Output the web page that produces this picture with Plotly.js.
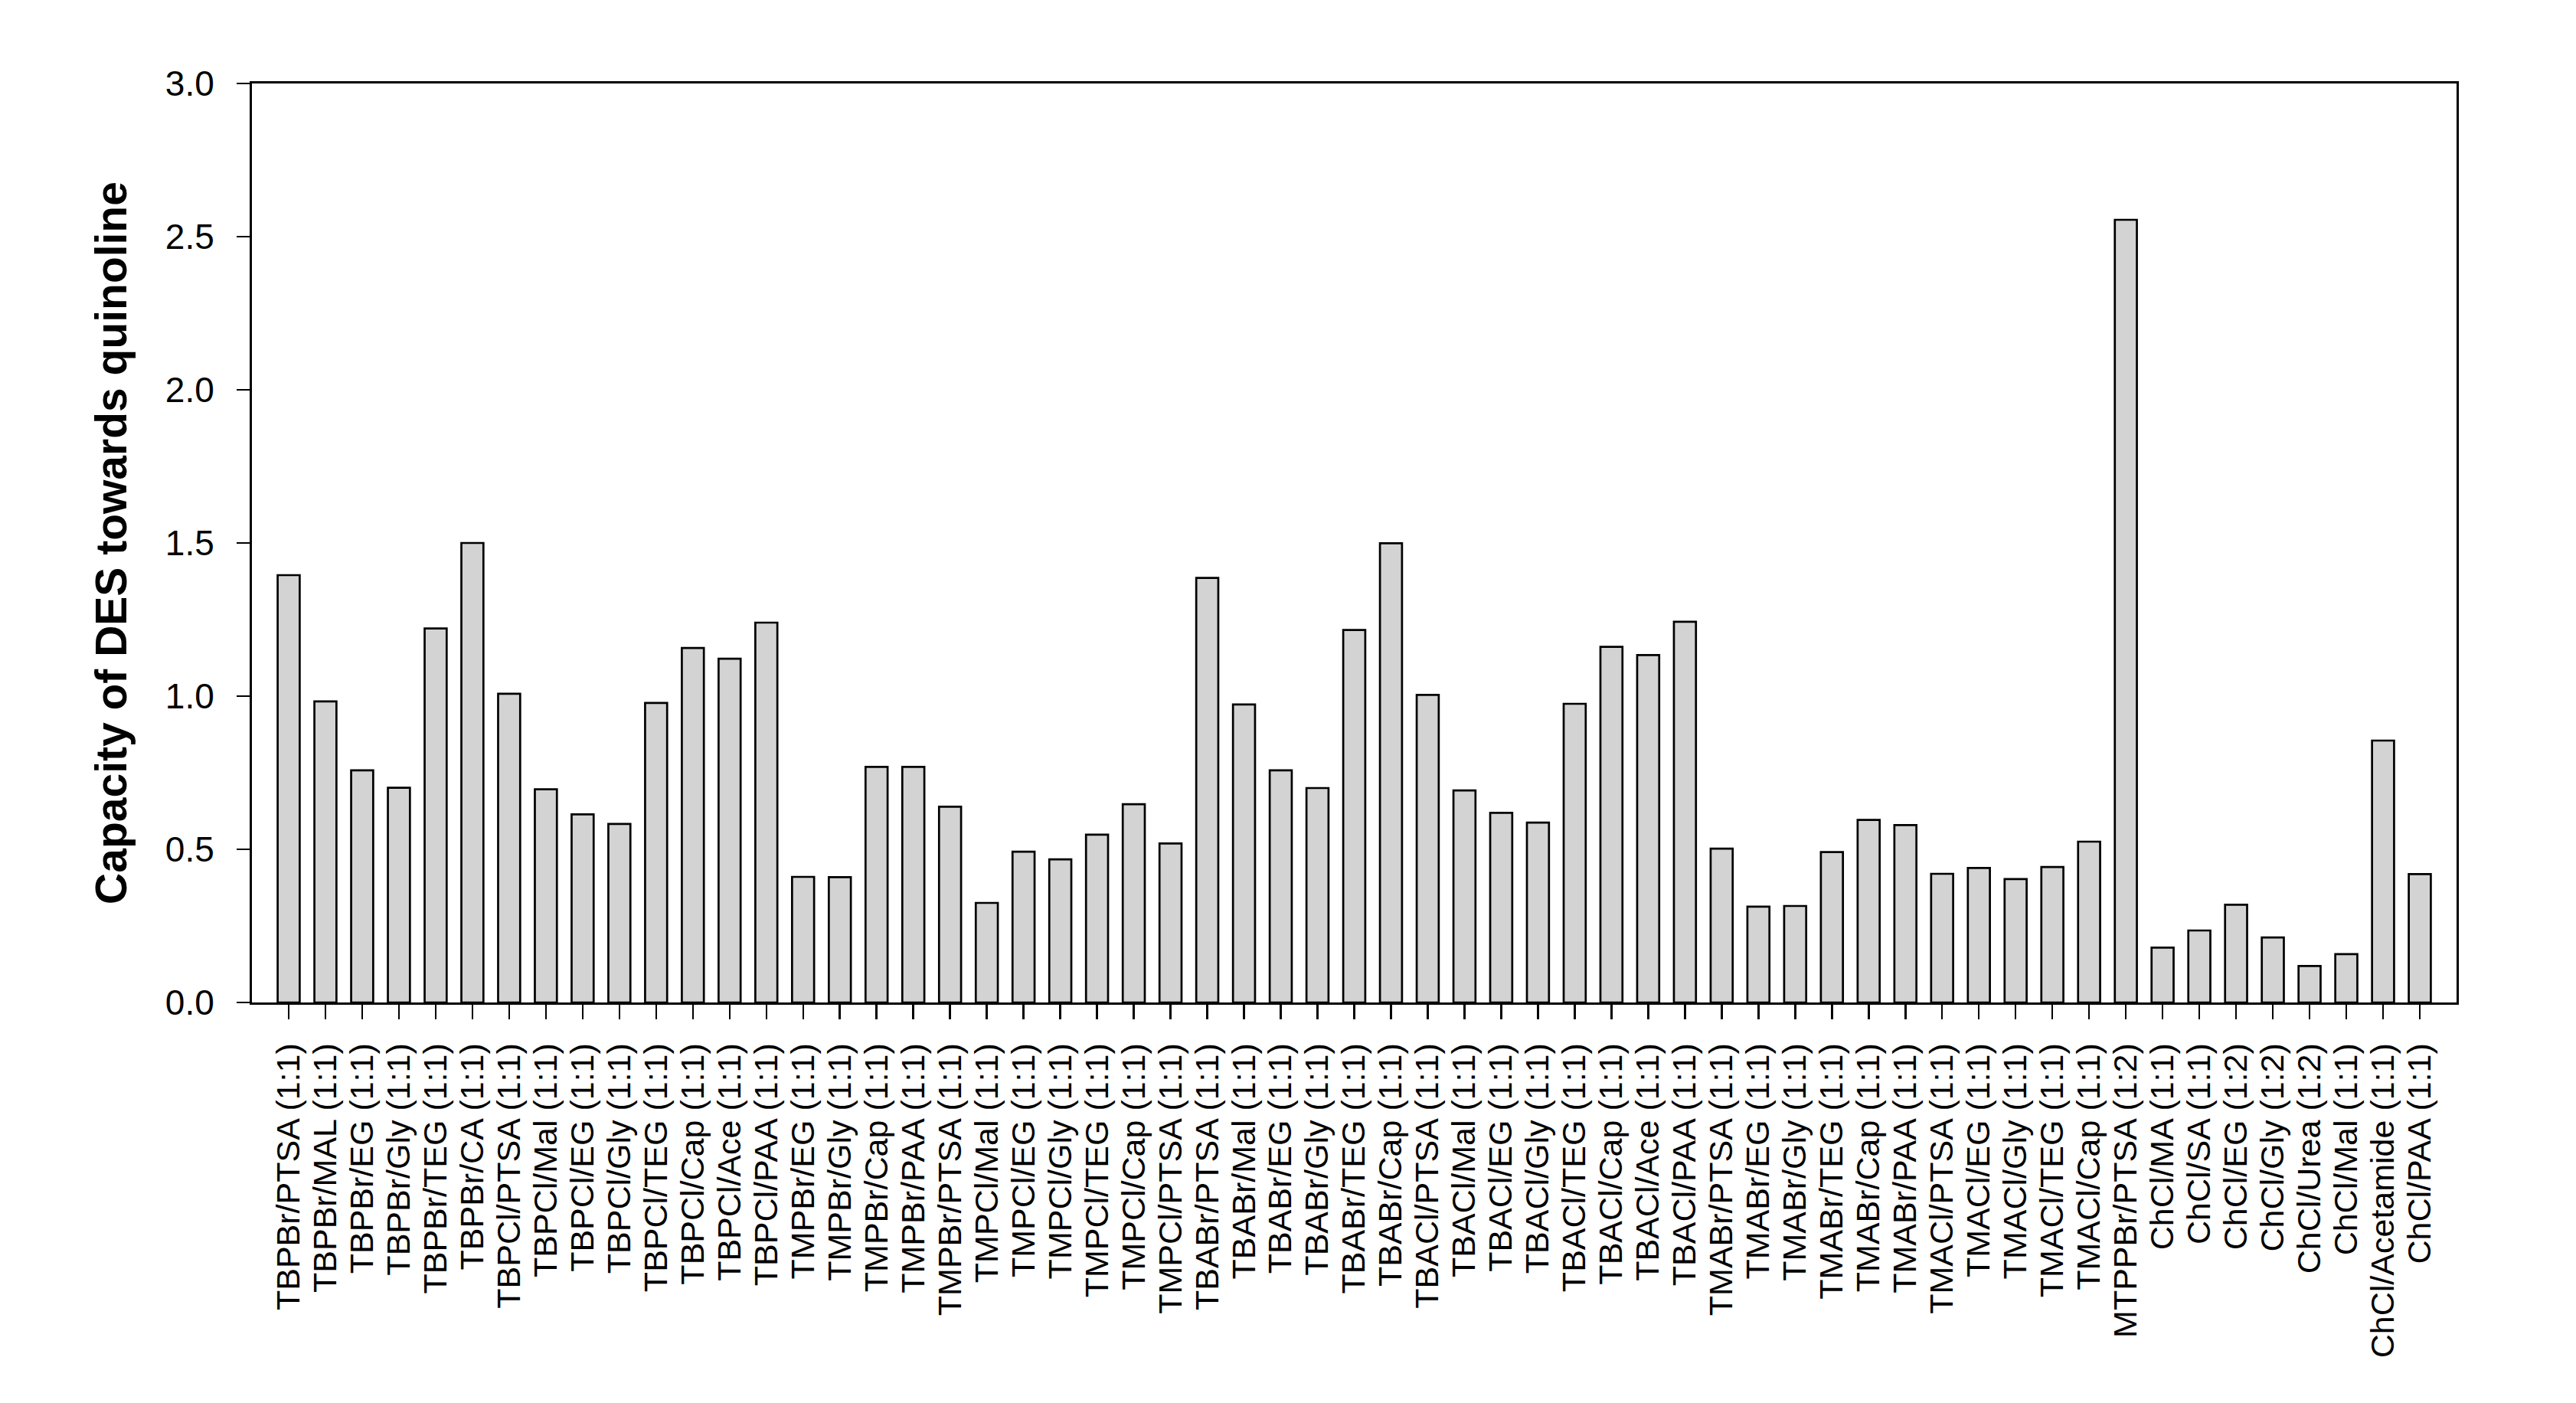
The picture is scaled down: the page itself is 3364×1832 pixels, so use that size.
<!DOCTYPE html>
<html>
<head>
<meta charset="utf-8">
<script src="https://cdn.plot.ly/plotly-3.0.1.min.js"></script>
<style>
  html, body { margin: 0; padding: 0; background: #fff; }
  #chart { width: 3364px; height: 1832px; }
</style>
</head>
<body>
<div id="chart"></div>
<script>
// DES names and ratios
const desNames = [
  'TBPBr/PTSA', 'TBPBr/MAL', 'TBPBr/EG', 'TBPBr/Gly', 'TBPBr/TEG', 'TBPBr/CA',
  'TBPCl/PTSA', 'TBPCl/Mal', 'TBPCl/EG', 'TBPCl/Gly', 'TBPCl/TEG', 'TBPCl/Cap', 'TBPCl/Ace', 'TBPCl/PAA',
  'TMPBr/EG', 'TMPBr/Gly', 'TMPBr/Cap', 'TMPBr/PAA', 'TMPBr/PTSA',
  'TMPCl/Mal', 'TMPCl/EG', 'TMPCl/Gly', 'TMPCl/TEG', 'TMPCl/Cap', 'TMPCl/PTSA',
  'TBABr/PTSA', 'TBABr/Mal', 'TBABr/EG', 'TBABr/Gly', 'TBABr/TEG', 'TBABr/Cap',
  'TBACl/PTSA', 'TBACl/Mal', 'TBACl/EG', 'TBACl/Gly', 'TBACl/TEG', 'TBACl/Cap', 'TBACl/Ace', 'TBACl/PAA',
  'TMABr/PTSA', 'TMABr/EG', 'TMABr/Gly', 'TMABr/TEG', 'TMABr/Cap', 'TMABr/PAA',
  'TMACl/PTSA', 'TMACl/EG', 'TMACl/Gly', 'TMACl/TEG', 'TMACl/Cap',
  'MTPPBr/PTSA', 'ChCl/MA', 'ChCl/SA', 'ChCl/EG', 'ChCl/Gly', 'ChCl/Urea', 'ChCl/Mal', 'ChCl/Acetamide', 'ChCl/PAA'
];
const ratios = [
  '1:1', '1:1', '1:1', '1:1', '1:1', '1:1',
  '1:1', '1:1', '1:1', '1:1', '1:1', '1:1', '1:1', '1:1',
  '1:1', '1:1', '1:1', '1:1', '1:1',
  '1:1', '1:1', '1:1', '1:1', '1:1', '1:1',
  '1:1', '1:1', '1:1', '1:1', '1:1', '1:1',
  '1:1', '1:1', '1:1', '1:1', '1:1', '1:1', '1:1', '1:1',
  '1:1', '1:1', '1:1', '1:1', '1:1', '1:1',
  '1:1', '1:1', '1:1', '1:1', '1:1',
  '1:2', '1:1', '1:1', '1:2', '1:2', '1:2', '1:1', '1:1', '1:1'
];
const capacity = [
  1.395, 0.983, 0.758, 0.701, 1.221, 1.500,
  1.008, 0.696, 0.614, 0.583, 0.978, 1.157, 1.122, 1.240,
  0.410, 0.409, 0.769, 0.769, 0.639,
  0.325, 0.492, 0.467, 0.548, 0.647, 0.519,
  1.386, 0.973, 0.758, 0.700, 1.216, 1.499,
  1.004, 0.692, 0.619, 0.587, 0.975, 1.161, 1.134, 1.243,
  0.502, 0.313, 0.315, 0.491, 0.596, 0.579,
  0.420, 0.439, 0.403, 0.442, 0.525,
  2.555, 0.179, 0.235, 0.319, 0.212, 0.119, 0.158, 0.855, 0.419
];
const yTicks = [0, 0.5, 1.0, 1.5, 2.0, 2.5, 3.0];

const labels = desNames.map((n, i) => n + ' (' + ratios[i] + ')');
const FONT = '"Liberation Sans", Arial, Helvetica, sans-serif';

let data = [{
  type: 'bar',
  x: labels,
  y: capacity,
  width: 0.6,
  marker: {
    color: '#d3d3d3',
    line: { color: '#000', width: 2.7 }
  },
  hoverinfo: 'x+y'
}];

let layout = {
  width: 3364,
  height: 1832,
  paper_bgcolor: '#fff',
  plot_bgcolor: '#fff',
  showlegend: false,
  margin: { l: 329, r: 156, t: 109, b: 523, pad: 0 },
  font: { family: FONT, color: '#000' },
  bargap: 0.4,
  xaxis: {
    type: 'category',
    range: [-1, 59],
    tickmode: 'array',
    tickvals: labels,
    ticktext: labels,
    showline: true,
    mirror: true,
    linecolor: '#000',
    linewidth: 3,
    showgrid: false,
    zeroline: false,
    ticks: 'outside',
    ticklen: 19,
    tickwidth: 2.5,
    tickcolor: '#000',
    tickangle: -90,
    ticklabelstandoff: 14,
    tickfont: { family: FONT, size: 43, color: '#000' },
    automargin: false
  },
  yaxis: {
    range: [0, 3],
    tickvals: yTicks,
    ticktext: yTicks.map(v => v.toFixed(1)),
    showline: true,
    mirror: true,
    linecolor: '#000',
    linewidth: 3,
    showgrid: false,
    zeroline: false,
    ticks: 'outside',
    ticklen: 17,
    tickwidth: 2.5,
    tickcolor: '#000',
    ticklabelstandoff: 20,
    tickfont: { family: FONT, size: 46, color: '#000' },
    title: {
      text: 'Capacity of DES towards quinoline',
      font: { family: FONT, size: 57, color: '#000', weight: 'bold' },
      standoff: 32
    },
    automargin: false
  }
};

Plotly.newPlot('chart', data, layout, { displayModeBar: false, staticPlot: true });
</script>
</body>
</html>
